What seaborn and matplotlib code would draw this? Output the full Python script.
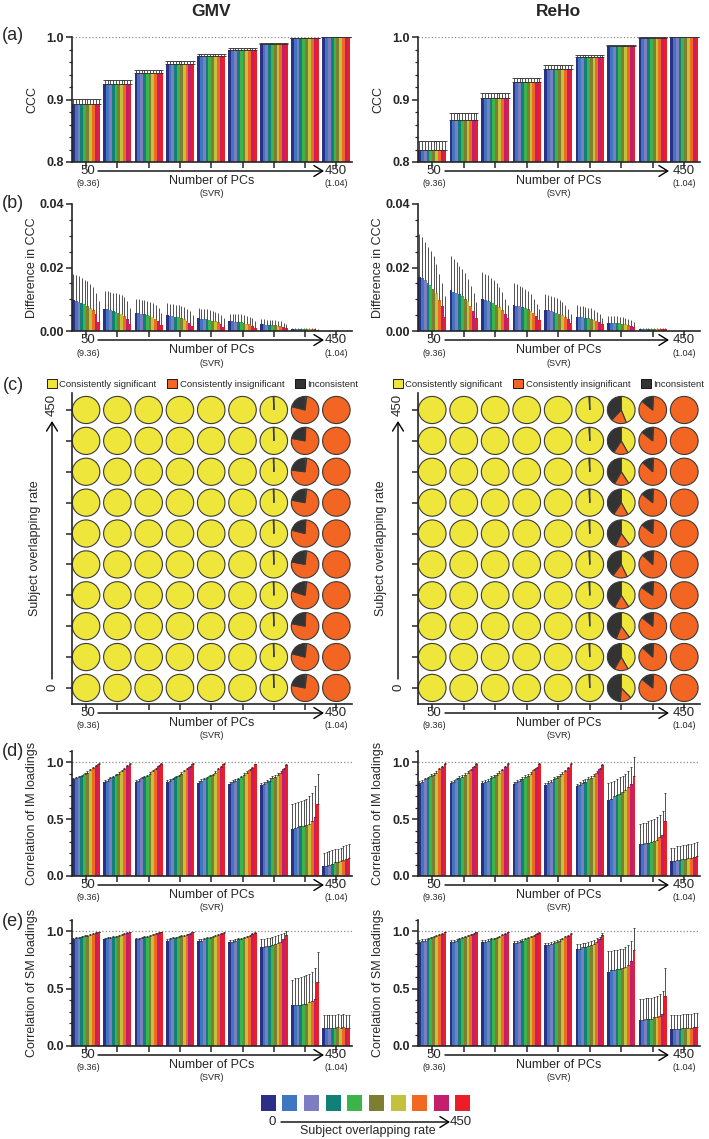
import matplotlib
matplotlib.use("Agg")
import matplotlib.pyplot as plt
from matplotlib.patches import Patch, FancyArrowPatch
from matplotlib.ticker import MultipleLocator
import numpy as np
import pandas as pd
import seaborn as sns

W, H = 709, 1139

# 10 subject-overlapping-rate levels (0 -> 450), 9 PC settings (50 -> 450)
RATE_LEVELS = ["r0", "r1", "r2", "r3", "r4", "r5", "r6", "r7", "r8", "r9"]
RATE_COLORS = ["#2b2f86", "#4075c0", "#7f7dc1", "#127f78", "#3cb44b",
               "#7e7d31", "#c4c23c", "#f26822", "#c41f6b", "#ec1d26"]
PC_LEVELS = ["50", "100", "150", "200", "250", "300", "350", "400", "450"]
PIE_LABELS = ["Consistently significant", "Consistently insignificant", "Inconsistent"]
PIE_COLORS = ["#efe63b", "#f26522", "#333333"]

# ---- (a) CCC, rows = PC settings, columns = overlapping rate
gmv_ccc = [
    [0.893, 0.893, 0.893, 0.893, 0.893, 0.893, 0.893, 0.893, 0.893, 0.893],
    [0.925, 0.925, 0.925, 0.925, 0.925, 0.925, 0.925, 0.925, 0.925, 0.925],
    [0.943, 0.943, 0.943, 0.943, 0.943, 0.943, 0.943, 0.943, 0.943, 0.943],
    [0.957, 0.957, 0.957, 0.957, 0.957, 0.957, 0.957, 0.957, 0.957, 0.957],
    [0.969, 0.969, 0.969, 0.969, 0.969, 0.969, 0.969, 0.969, 0.969, 0.969],
    [0.979, 0.979, 0.979, 0.979, 0.979, 0.979, 0.979, 0.979, 0.979, 0.979],
    [0.989, 0.989, 0.989, 0.989, 0.989, 0.989, 0.989, 0.989, 0.989, 0.989],
    [0.998, 0.998, 0.998, 0.998, 0.998, 0.998, 0.998, 0.998, 0.998, 0.998],
    [1.000, 1.000, 1.000, 1.000, 1.000, 1.000, 1.000, 1.000, 1.000, 1.000],
]
gmv_ccc_err = [
    [0.008, 0.008, 0.008, 0.008, 0.008, 0.008, 0.008, 0.008, 0.008, 0.008],
    [0.006, 0.006, 0.006, 0.006, 0.006, 0.006, 0.006, 0.006, 0.006, 0.006],
    [0.005, 0.005, 0.005, 0.005, 0.005, 0.005, 0.005, 0.005, 0.005, 0.005],
    [0.004, 0.004, 0.004, 0.004, 0.004, 0.004, 0.004, 0.004, 0.004, 0.004],
    [0.004, 0.004, 0.004, 0.004, 0.004, 0.004, 0.004, 0.004, 0.004, 0.004],
    [0.003, 0.003, 0.003, 0.003, 0.003, 0.003, 0.003, 0.003, 0.003, 0.003],
    [0.002, 0.002, 0.002, 0.002, 0.002, 0.002, 0.002, 0.002, 0.002, 0.002],
    [0.001, 0.001, 0.001, 0.001, 0.001, 0.001, 0.001, 0.001, 0.001, 0.001],
    [0.000, 0.000, 0.000, 0.000, 0.000, 0.000, 0.000, 0.000, 0.000, 0.000],
]
reho_ccc = [
    [0.820, 0.820, 0.820, 0.820, 0.820, 0.820, 0.820, 0.820, 0.820, 0.820],
    [0.868, 0.868, 0.868, 0.868, 0.868, 0.868, 0.868, 0.868, 0.868, 0.868],
    [0.903, 0.903, 0.903, 0.903, 0.903, 0.903, 0.903, 0.903, 0.903, 0.903],
    [0.928, 0.928, 0.928, 0.928, 0.928, 0.928, 0.928, 0.928, 0.928, 0.928],
    [0.949, 0.949, 0.949, 0.949, 0.949, 0.949, 0.949, 0.949, 0.949, 0.949],
    [0.968, 0.968, 0.968, 0.968, 0.968, 0.968, 0.968, 0.968, 0.968, 0.968],
    [0.985, 0.985, 0.985, 0.985, 0.985, 0.985, 0.985, 0.985, 0.985, 0.985],
    [0.998, 0.998, 0.998, 0.998, 0.998, 0.998, 0.998, 0.998, 0.998, 0.998],
    [1.000, 1.000, 1.000, 1.000, 1.000, 1.000, 1.000, 1.000, 1.000, 1.000],
]
reho_ccc_err = [
    [0.013, 0.013, 0.013, 0.013, 0.013, 0.013, 0.013, 0.013, 0.013, 0.013],
    [0.010, 0.010, 0.010, 0.010, 0.010, 0.010, 0.010, 0.010, 0.010, 0.010],
    [0.008, 0.008, 0.008, 0.008, 0.008, 0.008, 0.008, 0.008, 0.008, 0.008],
    [0.007, 0.007, 0.007, 0.007, 0.007, 0.007, 0.007, 0.007, 0.007, 0.007],
    [0.006, 0.006, 0.006, 0.006, 0.006, 0.006, 0.006, 0.006, 0.006, 0.006],
    [0.004, 0.004, 0.004, 0.004, 0.004, 0.004, 0.004, 0.004, 0.004, 0.004],
    [0.003, 0.003, 0.003, 0.003, 0.003, 0.003, 0.003, 0.003, 0.003, 0.003],
    [0.002, 0.002, 0.002, 0.002, 0.002, 0.002, 0.002, 0.002, 0.002, 0.002],
    [0.000, 0.000, 0.000, 0.000, 0.000, 0.000, 0.000, 0.000, 0.000, 0.000],
]

# ---- (b) difference in CCC
gmv_diff = [
    [0.0098, 0.0095, 0.0092, 0.0088, 0.0084, 0.0079, 0.0073, 0.0066, 0.0052, 0.0029],
    [0.0070, 0.0068, 0.0066, 0.0064, 0.0061, 0.0058, 0.0054, 0.0048, 0.0038, 0.0021],
    [0.0058, 0.0057, 0.0055, 0.0053, 0.0051, 0.0048, 0.0044, 0.0039, 0.0031, 0.0019],
    [0.0049, 0.0048, 0.0046, 0.0045, 0.0043, 0.0040, 0.0037, 0.0033, 0.0026, 0.0016],
    [0.0040, 0.0039, 0.0038, 0.0037, 0.0035, 0.0033, 0.0030, 0.0027, 0.0022, 0.0014],
    [0.0030, 0.0030, 0.0029, 0.0028, 0.0027, 0.0025, 0.0023, 0.0021, 0.0017, 0.0010],
    [0.0021, 0.0021, 0.0020, 0.0020, 0.0019, 0.0018, 0.0017, 0.0015, 0.0012, 0.0008],
    [0.0007, 0.0007, 0.0007, 0.0007, 0.0007, 0.0006, 0.0006, 0.0006, 0.0005, 0.0004],
    [0.0000, 0.0000, 0.0000, 0.0000, 0.0000, 0.0000, 0.0000, 0.0000, 0.0000, 0.0000],
]
gmv_diff_err = [
    [0.0082, 0.0081, 0.0080, 0.0079, 0.0078, 0.0077, 0.0076, 0.0074, 0.0068, 0.0065],
    [0.0057, 0.0057, 0.0057, 0.0057, 0.0058, 0.0058, 0.0058, 0.0058, 0.0056, 0.0050],
    [0.0044, 0.0044, 0.0044, 0.0044, 0.0044, 0.0044, 0.0044, 0.0043, 0.0041, 0.0038],
    [0.0038, 0.0038, 0.0038, 0.0038, 0.0038, 0.0038, 0.0038, 0.0037, 0.0036, 0.0035],
    [0.0031, 0.0031, 0.0031, 0.0031, 0.0031, 0.0031, 0.0030, 0.0030, 0.0029, 0.0027],
    [0.0025, 0.0025, 0.0025, 0.0025, 0.0025, 0.0024, 0.0024, 0.0024, 0.0023, 0.0021],
    [0.0016, 0.0016, 0.0016, 0.0016, 0.0016, 0.0016, 0.0015, 0.0015, 0.0014, 0.0013],
    [0.0003, 0.0003, 0.0003, 0.0003, 0.0003, 0.0003, 0.0003, 0.0003, 0.0003, 0.0002],
    [0.0000, 0.0000, 0.0000, 0.0000, 0.0000, 0.0000, 0.0000, 0.0000, 0.0000, 0.0000],
]
reho_diff = [
    [0.0171, 0.0168, 0.0160, 0.0152, 0.0145, 0.0133, 0.0120, 0.0098, 0.0079, 0.0044],
    [0.0128, 0.0124, 0.0120, 0.0115, 0.0110, 0.0102, 0.0093, 0.0080, 0.0062, 0.0040],
    [0.0102, 0.0099, 0.0096, 0.0092, 0.0088, 0.0082, 0.0075, 0.0065, 0.0052, 0.0040],
    [0.0082, 0.0080, 0.0078, 0.0075, 0.0072, 0.0068, 0.0063, 0.0056, 0.0046, 0.0034],
    [0.0066, 0.0065, 0.0063, 0.0061, 0.0058, 0.0055, 0.0051, 0.0045, 0.0037, 0.0026],
    [0.0045, 0.0044, 0.0043, 0.0042, 0.0040, 0.0038, 0.0035, 0.0032, 0.0027, 0.0021],
    [0.0026, 0.0026, 0.0025, 0.0025, 0.0024, 0.0023, 0.0022, 0.0020, 0.0017, 0.0014],
    [0.0007, 0.0007, 0.0007, 0.0007, 0.0007, 0.0007, 0.0006, 0.0006, 0.0006, 0.0006],
    [0.0000, 0.0000, 0.0000, 0.0000, 0.0000, 0.0000, 0.0000, 0.0000, 0.0000, 0.0000],
]
reho_diff_err = [
    [0.0134, 0.0127, 0.0121, 0.0114, 0.0108, 0.0102, 0.0090, 0.0080, 0.0071, 0.0066],
    [0.0107, 0.0102, 0.0096, 0.0090, 0.0085, 0.0080, 0.0070, 0.0062, 0.0058, 0.0050],
    [0.0083, 0.0081, 0.0079, 0.0076, 0.0072, 0.0068, 0.0063, 0.0057, 0.0048, 0.0042],
    [0.0070, 0.0068, 0.0065, 0.0063, 0.0060, 0.0057, 0.0052, 0.0046, 0.0039, 0.0034],
    [0.0049, 0.0048, 0.0047, 0.0046, 0.0045, 0.0043, 0.0041, 0.0038, 0.0033, 0.0027],
    [0.0036, 0.0036, 0.0035, 0.0034, 0.0034, 0.0033, 0.0032, 0.0029, 0.0025, 0.0019],
    [0.0021, 0.0021, 0.0021, 0.0021, 0.0021, 0.0020, 0.0020, 0.0019, 0.0017, 0.0014],
    [0.0003, 0.0003, 0.0003, 0.0003, 0.0003, 0.0003, 0.0003, 0.0003, 0.0003, 0.0003],
    [0.0000, 0.0000, 0.0000, 0.0000, 0.0000, 0.0000, 0.0000, 0.0000, 0.0000, 0.0000],
]

# ---- (c) significance consistency, rows = overlap rate (0 at bottom), cols = PCs
gmv_sig = [
    [1.0, 1.0, 1.0, 1.0, 1.0, 1.0, 0.995, 0.02, 0.0],
    [1.0, 1.0, 1.0, 1.0, 1.0, 1.0, 0.995, 0.02, 0.0],
    [1.0, 1.0, 1.0, 1.0, 1.0, 1.0, 0.995, 0.01, 0.0],
    [1.0, 1.0, 1.0, 1.0, 1.0, 1.0, 0.995, 0.02, 0.0],
    [1.0, 1.0, 1.0, 1.0, 1.0, 1.0, 0.995, 0.02, 0.0],
    [1.0, 1.0, 1.0, 1.0, 1.0, 1.0, 0.995, 0.01, 0.0],
    [1.0, 1.0, 1.0, 1.0, 1.0, 1.0, 0.995, 0.02, 0.0],
    [1.0, 1.0, 1.0, 1.0, 1.0, 1.0, 0.995, 0.02, 0.0],
    [1.0, 1.0, 1.0, 1.0, 1.0, 1.0, 0.995, 0.01, 0.0],
    [1.0, 1.0, 1.0, 1.0, 1.0, 1.0, 0.995, 0.02, 0.0],
]
gmv_incon = [
    [0.0, 0.0, 0.0, 0.0, 0.0, 0.0, 0.005, 0.22, 0.0],
    [0.0, 0.0, 0.0, 0.0, 0.0, 0.0, 0.005, 0.21, 0.0],
    [0.0, 0.0, 0.0, 0.0, 0.0, 0.0, 0.005, 0.22, 0.0],
    [0.0, 0.0, 0.0, 0.0, 0.0, 0.0, 0.005, 0.20, 0.0],
    [0.0, 0.0, 0.0, 0.0, 0.0, 0.0, 0.005, 0.22, 0.0],
    [0.0, 0.0, 0.0, 0.0, 0.0, 0.0, 0.005, 0.21, 0.0],
    [0.0, 0.0, 0.0, 0.0, 0.0, 0.0, 0.005, 0.22, 0.0],
    [0.0, 0.0, 0.0, 0.0, 0.0, 0.0, 0.005, 0.23, 0.0],
    [0.0, 0.0, 0.0, 0.0, 0.0, 0.0, 0.005, 0.22, 0.0],
    [0.0, 0.0, 0.0, 0.0, 0.0, 0.0, 0.005, 0.21, 0.0],
]
reho_sig = [
    [1.0, 1.0, 1.0, 1.0, 1.0, 0.993, 0.38, 0.01, 0.0],
    [1.0, 1.0, 1.0, 1.0, 1.0, 0.993, 0.42, 0.01, 0.0],
    [1.0, 1.0, 1.0, 1.0, 1.0, 0.993, 0.40, 0.01, 0.0],
    [1.0, 1.0, 1.0, 1.0, 1.0, 0.993, 0.41, 0.01, 0.0],
    [1.0, 1.0, 1.0, 1.0, 1.0, 0.993, 0.43, 0.01, 0.0],
    [1.0, 1.0, 1.0, 1.0, 1.0, 0.993, 0.40, 0.01, 0.0],
    [1.0, 1.0, 1.0, 1.0, 1.0, 0.993, 0.42, 0.01, 0.0],
    [1.0, 1.0, 1.0, 1.0, 1.0, 0.993, 0.41, 0.01, 0.0],
    [1.0, 1.0, 1.0, 1.0, 1.0, 0.993, 0.42, 0.01, 0.0],
    [1.0, 1.0, 1.0, 1.0, 1.0, 0.993, 0.44, 0.01, 0.0],
]
reho_incon = [
    [0.0, 0.0, 0.0, 0.0, 0.0, 0.007, 0.49, 0.14, 0.0],
    [0.0, 0.0, 0.0, 0.0, 0.0, 0.007, 0.42, 0.13, 0.0],
    [0.0, 0.0, 0.0, 0.0, 0.0, 0.007, 0.44, 0.14, 0.0],
    [0.0, 0.0, 0.0, 0.0, 0.0, 0.007, 0.42, 0.15, 0.0],
    [0.0, 0.0, 0.0, 0.0, 0.0, 0.007, 0.40, 0.13, 0.0],
    [0.0, 0.0, 0.0, 0.0, 0.0, 0.007, 0.43, 0.14, 0.0],
    [0.0, 0.0, 0.0, 0.0, 0.0, 0.007, 0.41, 0.14, 0.0],
    [0.0, 0.0, 0.0, 0.0, 0.0, 0.007, 0.42, 0.13, 0.0],
    [0.0, 0.0, 0.0, 0.0, 0.0, 0.007, 0.41, 0.14, 0.0],
    [0.0, 0.0, 0.0, 0.0, 0.0, 0.007, 0.38, 0.14, 0.0],
]

# ---- (d) correlation of IM loadings
gmv_im = [
    [0.85, 0.86, 0.87, 0.88, 0.90, 0.91, 0.93, 0.95, 0.97, 0.99],
    [0.83, 0.84, 0.86, 0.87, 0.89, 0.90, 0.92, 0.94, 0.97, 0.99],
    [0.83, 0.84, 0.86, 0.87, 0.88, 0.90, 0.92, 0.94, 0.97, 0.99],
    [0.83, 0.84, 0.85, 0.87, 0.88, 0.90, 0.92, 0.94, 0.96, 0.99],
    [0.82, 0.84, 0.85, 0.86, 0.88, 0.89, 0.91, 0.94, 0.96, 0.99],
    [0.81, 0.83, 0.84, 0.85, 0.87, 0.89, 0.91, 0.93, 0.95, 0.985],
    [0.80, 0.81, 0.83, 0.84, 0.86, 0.87, 0.89, 0.91, 0.94, 0.975],
    [0.41, 0.42, 0.43, 0.44, 0.44, 0.45, 0.46, 0.48, 0.52, 0.63],
    [0.09, 0.09, 0.10, 0.11, 0.12, 0.12, 0.13, 0.14, 0.15, 0.16],
]
gmv_im_err = [
    [0.012, 0.012, 0.011, 0.011, 0.010, 0.010, 0.009, 0.008, 0.006, 0.003],
    [0.013, 0.013, 0.012, 0.012, 0.011, 0.011, 0.010, 0.008, 0.006, 0.003],
    [0.013, 0.013, 0.012, 0.012, 0.011, 0.011, 0.010, 0.009, 0.006, 0.003],
    [0.014, 0.014, 0.013, 0.013, 0.012, 0.011, 0.010, 0.009, 0.007, 0.003],
    [0.014, 0.014, 0.013, 0.013, 0.012, 0.012, 0.011, 0.009, 0.007, 0.004],
    [0.016, 0.016, 0.015, 0.015, 0.014, 0.013, 0.012, 0.010, 0.008, 0.005],
    [0.020, 0.020, 0.019, 0.019, 0.018, 0.018, 0.017, 0.016, 0.014, 0.010],
    [0.22, 0.22, 0.22, 0.22, 0.23, 0.23, 0.24, 0.25, 0.27, 0.27],
    [0.11, 0.12, 0.12, 0.12, 0.12, 0.12, 0.12, 0.12, 0.12, 0.12],
]
reho_im = [
    [0.82, 0.83, 0.85, 0.86, 0.88, 0.89, 0.91, 0.94, 0.96, 0.99],
    [0.82, 0.83, 0.85, 0.86, 0.87, 0.89, 0.91, 0.93, 0.96, 0.99],
    [0.82, 0.83, 0.84, 0.86, 0.87, 0.89, 0.91, 0.93, 0.96, 0.99],
    [0.81, 0.83, 0.84, 0.85, 0.87, 0.88, 0.90, 0.93, 0.95, 0.99],
    [0.80, 0.82, 0.83, 0.85, 0.86, 0.88, 0.90, 0.92, 0.95, 0.99],
    [0.79, 0.80, 0.82, 0.83, 0.85, 0.86, 0.88, 0.91, 0.94, 0.98],
    [0.67, 0.68, 0.70, 0.71, 0.72, 0.74, 0.76, 0.78, 0.81, 0.88],
    [0.28, 0.28, 0.29, 0.29, 0.30, 0.31, 0.32, 0.34, 0.36, 0.48],
    [0.13, 0.13, 0.14, 0.14, 0.15, 0.15, 0.16, 0.16, 0.17, 0.18],
]
reho_im_err = [
    [0.016, 0.016, 0.015, 0.015, 0.014, 0.013, 0.012, 0.010, 0.008, 0.004],
    [0.017, 0.017, 0.016, 0.016, 0.015, 0.014, 0.013, 0.011, 0.008, 0.004],
    [0.018, 0.018, 0.017, 0.016, 0.015, 0.014, 0.013, 0.011, 0.008, 0.004],
    [0.019, 0.019, 0.018, 0.017, 0.016, 0.015, 0.014, 0.012, 0.009, 0.005],
    [0.020, 0.020, 0.019, 0.018, 0.017, 0.016, 0.015, 0.013, 0.010, 0.005],
    [0.023, 0.023, 0.022, 0.021, 0.020, 0.019, 0.018, 0.016, 0.013, 0.008],
    [0.15, 0.15, 0.14, 0.14, 0.15, 0.14, 0.14, 0.14, 0.15, 0.17],
    [0.18, 0.19, 0.18, 0.19, 0.19, 0.19, 0.20, 0.20, 0.21, 0.25],
    [0.12, 0.12, 0.12, 0.12, 0.12, 0.12, 0.12, 0.12, 0.12, 0.12],
]

# ---- (e) correlation of SM loadings
gmv_sm = [
    [0.93, 0.94, 0.94, 0.95, 0.96, 0.96, 0.97, 0.98, 0.99, 0.995],
    [0.93, 0.94, 0.94, 0.95, 0.95, 0.96, 0.97, 0.98, 0.99, 0.995],
    [0.93, 0.93, 0.94, 0.95, 0.95, 0.96, 0.97, 0.98, 0.99, 0.995],
    [0.92, 0.93, 0.94, 0.94, 0.95, 0.96, 0.96, 0.97, 0.98, 0.995],
    [0.92, 0.92, 0.93, 0.94, 0.94, 0.95, 0.96, 0.97, 0.98, 0.99],
    [0.91, 0.91, 0.92, 0.93, 0.93, 0.94, 0.95, 0.96, 0.98, 0.99],
    [0.86, 0.86, 0.87, 0.87, 0.88, 0.89, 0.90, 0.91, 0.93, 0.97],
    [0.36, 0.36, 0.36, 0.36, 0.37, 0.37, 0.38, 0.39, 0.41, 0.56],
    [0.16, 0.16, 0.16, 0.16, 0.16, 0.17, 0.16, 0.17, 0.16, 0.16],
]
gmv_sm_err = [
    [0.010, 0.010, 0.010, 0.009, 0.009, 0.008, 0.007, 0.006, 0.004, 0.002],
    [0.011, 0.011, 0.010, 0.010, 0.009, 0.009, 0.008, 0.006, 0.004, 0.002],
    [0.011, 0.011, 0.011, 0.010, 0.010, 0.009, 0.008, 0.006, 0.004, 0.002],
    [0.012, 0.012, 0.011, 0.011, 0.010, 0.009, 0.008, 0.007, 0.005, 0.002],
    [0.013, 0.013, 0.012, 0.012, 0.011, 0.010, 0.009, 0.007, 0.005, 0.003],
    [0.015, 0.015, 0.014, 0.013, 0.012, 0.011, 0.010, 0.008, 0.006, 0.004],
    [0.075, 0.075, 0.074, 0.073, 0.072, 0.070, 0.068, 0.066, 0.060, 0.030],
    [0.22, 0.23, 0.23, 0.24, 0.24, 0.25, 0.25, 0.26, 0.27, 0.26],
    [0.11, 0.11, 0.11, 0.11, 0.11, 0.11, 0.11, 0.11, 0.11, 0.11],
]
reho_sm = [
    [0.91, 0.92, 0.92, 0.93, 0.94, 0.95, 0.96, 0.97, 0.98, 0.995],
    [0.91, 0.91, 0.92, 0.93, 0.94, 0.95, 0.96, 0.97, 0.98, 0.995],
    [0.91, 0.91, 0.92, 0.93, 0.93, 0.94, 0.95, 0.97, 0.98, 0.995],
    [0.90, 0.90, 0.91, 0.92, 0.93, 0.94, 0.95, 0.96, 0.98, 0.99],
    [0.88, 0.88, 0.89, 0.90, 0.91, 0.92, 0.93, 0.95, 0.96, 0.98],
    [0.85, 0.85, 0.86, 0.86, 0.87, 0.88, 0.89, 0.91, 0.93, 0.97],
    [0.65, 0.66, 0.66, 0.67, 0.67, 0.68, 0.69, 0.71, 0.74, 0.84],
    [0.23, 0.23, 0.24, 0.24, 0.24, 0.25, 0.25, 0.26, 0.28, 0.44],
    [0.15, 0.15, 0.15, 0.15, 0.16, 0.16, 0.16, 0.16, 0.17, 0.17],
]
reho_sm_err = [
    [0.014, 0.014, 0.013, 0.013, 0.012, 0.011, 0.010, 0.008, 0.006, 0.003],
    [0.015, 0.015, 0.014, 0.013, 0.012, 0.011, 0.010, 0.008, 0.006, 0.003],
    [0.015, 0.015, 0.014, 0.014, 0.013, 0.012, 0.011, 0.009, 0.006, 0.003],
    [0.017, 0.017, 0.016, 0.015, 0.014, 0.013, 0.012, 0.010, 0.007, 0.004],
    [0.020, 0.020, 0.019, 0.018, 0.017, 0.016, 0.014, 0.012, 0.009, 0.005],
    [0.040, 0.040, 0.039, 0.038, 0.037, 0.035, 0.033, 0.030, 0.025, 0.018],
    [0.18, 0.17, 0.18, 0.17, 0.18, 0.17, 0.17, 0.17, 0.18, 0.19],
    [0.18, 0.18, 0.18, 0.18, 0.18, 0.18, 0.19, 0.19, 0.20, 0.24],
    [0.12, 0.12, 0.12, 0.12, 0.12, 0.12, 0.12, 0.12, 0.12, 0.12],
]

sns.set_theme(style="ticks")
plt.rcParams["font.family"] = ["Liberation Sans", "DejaVu Sans"]
plt.rcParams["axes.linewidth"] = 1.2

fig = plt.figure(figsize=(W / 100, H / 100), dpi=100)

# pixel layout of the two columns
COLS = {
    "left": dict(x=(72, 352), n50=88, n450=336, arrow=(98, 324), mid=212, ylab=-34),
    "right": dict(x=(418, 700), n50=434, n450=684, arrow=(445, 669), mid=559, ylab=-34),
}


def add_ax(side, top, bottom):
    l, r = COLS[side]["x"]
    return fig.add_axes([l / W, 1 - bottom / H, (r - l) / W, (bottom - top) / H])


def ftext(x, y, s, **kw):
    kw.setdefault("ha", "center")
    kw.setdefault("va", "center")
    fig.text(x / W, 1 - y / H, s, **kw)


def farrow(x0, y0, x1, y1):
    fig.add_artist(FancyArrowPatch((x0 / W, 1 - y0 / H), (x1 / W, 1 - y1 / H),
                                   transform=fig.transFigure,
                                   arrowstyle="->,head_length=0.45,head_width=0.28",
                                   mutation_scale=14, lw=1.0, color="black",
                                   shrinkA=0, shrinkB=0))


def pc_note(side, y0):
    c = COLS[side]
    ftext(c["n50"], y0 + 9, "50", fontsize=9.5)
    ftext(c["n450"], y0 + 9, "450", fontsize=9.5)
    ftext(c["n50"], y0 + 22, "(9.36)", fontsize=6.5)
    ftext(c["n450"], y0 + 22, "(1.04)", fontsize=6.5)
    ftext(c["mid"], y0 + 19, "Number of PCs", fontsize=9)
    ftext(c["mid"], y0 + 32, "(SVR)", fontsize=6.5)
    farrow(c["arrow"][0], y0 + 9, c["arrow"][1], y0 + 9)


def style_axis(ax, side, ylabel):
    sns.despine(ax=ax)
    ax.tick_params(axis="both", which="major", length=4, width=1.1, direction="out", pad=2)
    ax.tick_params(axis="both", which="minor", length=2.5, width=0.9, direction="out")
    ax.set_xlabel("")
    ax.set_ylabel(ylabel, fontsize=9)
    l, r = COLS[side]["x"]
    ax.yaxis.set_label_coords(COLS[side]["ylab"] / (r - l), 0.5)


def draw_bars(ax, side, vals, errs, ylim, ticks, fmt, minor, ylabel, ref_line=True, capsize=1.0):
    df = pd.DataFrame(
        [(PC_LEVELS[g], RATE_LEVELS[r], vals[g][r]) for g in range(9) for r in range(10)],
        columns=["pcs", "rate", "value"])
    sns.barplot(data=df, x="pcs", y="value", hue="rate", order=PC_LEVELS,
                hue_order=RATE_LEVELS, palette=RATE_COLORS, saturation=1,
                width=0.9, gap=0, errorbar=None, linewidth=0, legend=False, ax=ax)
    bar_sets = list(ax.containers)
    for r, bars in enumerate(bar_sets):
        xs = [b.get_x() + b.get_width() / 2 for b in bars]
        ys = [b.get_height() for b in bars]
        up = [errs[g][r] for g in range(9)]
        ax.errorbar(xs, ys, yerr=[np.zeros(9), up], fmt="none", ecolor="#333333",
                    elinewidth=0.6, capsize=capsize, capthick=0.6)
    if ref_line:
        ax.axhline(1.0, color="#8a8a8a", ls=":", lw=0.9, zorder=0.5)
    ax.set_xlim(-0.45, 8.5)
    ax.set_ylim(*ylim)
    ax.set_xticks(range(9), labels=[])
    ax.set_yticks(ticks, labels=[fmt % t for t in ticks], fontsize=9, fontweight="bold")
    ax.yaxis.set_minor_locator(MultipleLocator(minor))
    style_axis(ax, side, ylabel)


def draw_pies(ax, side, sig, incon):
    for r in range(10):
        for c in range(9):
            fr = [sig[r][c], 1 - sig[r][c] - incon[r][c], incon[r][c]]
            keep = [(f, col) for f, col in zip(fr, PIE_COLORS) if f > 1e-6]
            ax.pie([f for f, _ in keep], colors=[col for _, col in keep],
                   center=(c, r), radius=0.44, startangle=90, counterclock=False,
                   frame=True, wedgeprops=dict(edgecolor="#3a3a3a", linewidth=0.8))
    ax.set_aspect("auto")
    ax.set_xlim(-0.45, 8.5)
    ax.set_ylim(-0.52, 9.55)
    ax.set_xticks(range(9), labels=[])
    ax.set_yticks(range(10), labels=[])
    style_axis(ax, side, "")
    l = COLS[side]["x"][0]
    # vertical "0 -> 450" overlap-rate arrow
    ftext(l - 20, 687, "0", fontsize=9.5, rotation=90)
    ftext(l - 20, 405, "450", fontsize=9.5, rotation=90)
    farrow(l - 20, 679, l - 20, 421)
    ftext(l - 37, 548, "Subject overlapping rate", fontsize=9, rotation=90)
    handles = [Patch(facecolor=c, edgecolor="black", linewidth=0.6, label=t)
               for c, t in zip(PIE_COLORS, PIE_LABELS)]
    lx = 47 if side == "left" else 393
    fig.legend(handles=handles, loc="center left", bbox_to_anchor=(lx / W, 1 - 384 / H),
               ncol=3, frameon=False, fontsize=6.8, handlelength=1.05, handleheight=1.05,
               handletextpad=0.25, columnspacing=1.15, borderpad=0, borderaxespad=0)


# titles and panel letters
ftext(211, 12, "GMV", fontsize=12.5, fontweight="bold")
ftext(558, 12, "ReHo", fontsize=12.5, fontweight="bold")
for lab, y in [("(a)", 36), ("(b)", 203), ("(c)", 385), ("(d)", 752), ("(e)", 922)]:
    ftext(13, y, lab, fontsize=13)

# (a)
for side, vals, errs in [("left", gmv_ccc, gmv_ccc_err), ("right", reho_ccc, reho_ccc_err)]:
    ax = add_ax(side, 37, 162)
    draw_bars(ax, side, vals, errs, (0.8, 1.0), [0.8, 0.9, 1.0], "%.1f", 0.02, "CCC",
              capsize=1.2)
    pc_note(side, 162)

# (b)
for side, vals, errs in [("left", gmv_diff, gmv_diff_err), ("right", reho_diff, reho_diff_err)]:
    ax = add_ax(side, 204, 331)
    draw_bars(ax, side, vals, errs, (0.0, 0.04), [0.0, 0.02, 0.04], "%.2f", 0.005,
              "Difference in CCC", ref_line=False, capsize=0)
    pc_note(side, 331)

# (c)
for side, sig, incon in [("left", gmv_sig, gmv_incon), ("right", reho_sig, reho_incon)]:
    ax = add_ax(side, 393, 704)
    draw_pies(ax, side, sig, incon)
    pc_note(side, 704)

# (d)
for side, vals, errs in [("left", gmv_im, gmv_im_err), ("right", reho_im, reho_im_err)]:
    ax = add_ax(side, 751, 876)
    draw_bars(ax, side, vals, errs, (0.0, 1.1), [0.0, 0.5, 1.0], "%.1f", 0.1,
              "Correlation of IM loadings", capsize=0.8)
    pc_note(side, 876)

# (e)
for side, vals, errs in [("left", gmv_sm, gmv_sm_err), ("right", reho_sm, reho_sm_err)]:
    ax = add_ax(side, 920, 1046)
    draw_bars(ax, side, vals, errs, (0.0, 1.1), [0.0, 0.5, 1.0], "%.1f", 0.1,
              "Correlation of SM loadings", capsize=0.8)
    pc_note(side, 1046)

# bottom colour key for the overlap rate
key = [Patch(facecolor=c, edgecolor="none", label="") for c in RATE_COLORS]
fig.legend(handles=key, loc="center", bbox_to_anchor=(365.5 / W, 1 - 1103 / H), ncol=10,
           frameon=False, fontsize=10, handlelength=1.08, handleheight=1.37,
           handletextpad=0, columnspacing=0.48, borderpad=0, borderaxespad=0)
ftext(272, 1122, "0", fontsize=9.5)
ftext(461, 1122, "450", fontsize=9.5)
farrow(281, 1122, 450, 1122)
ftext(368, 1131, "Subject overlapping rate", fontsize=9)

fig.savefig("out.png", dpi=100)
